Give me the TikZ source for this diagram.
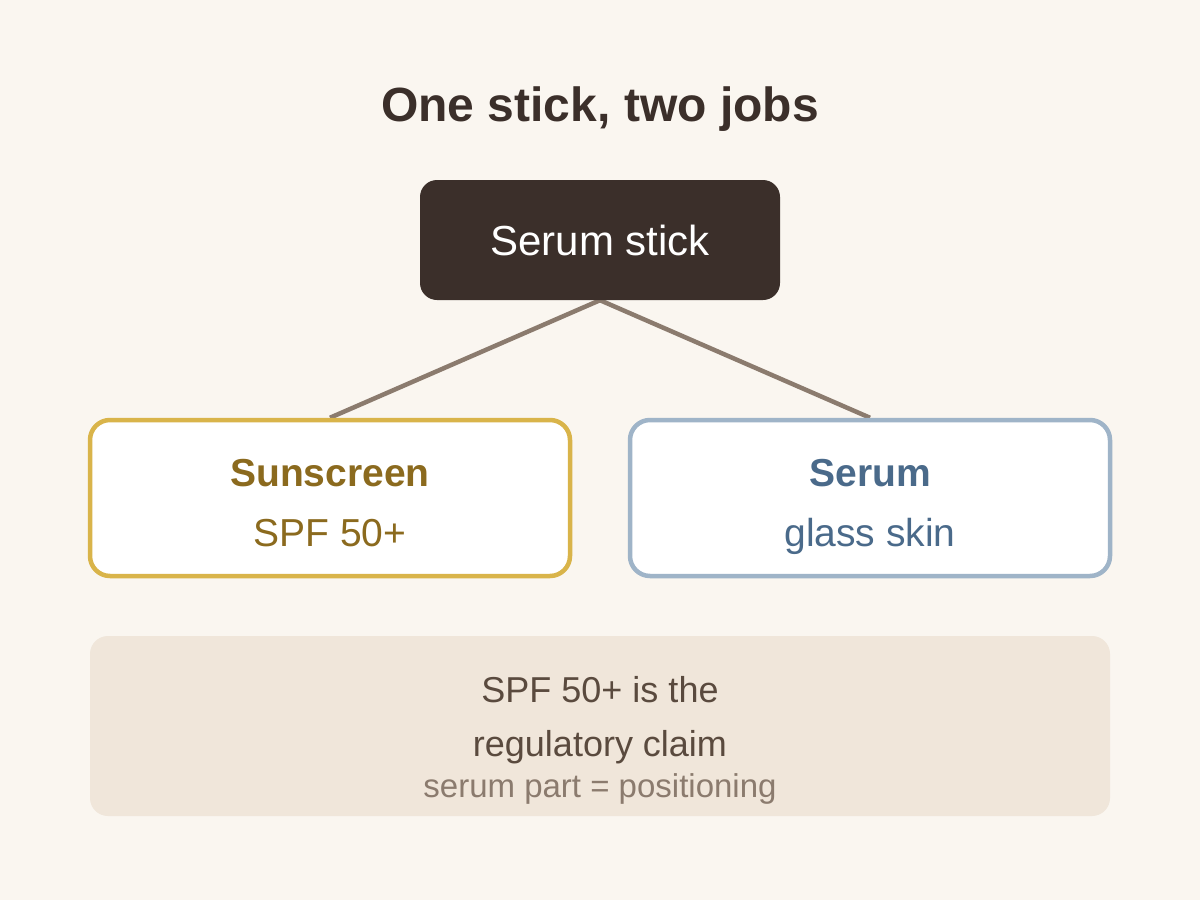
\documentclass[tikz,border=0pt]{standalone}
\usepackage{fontspec}
\setmainfont{Liberation Sans}
\usepackage{xcolor}
\usepackage{tikz}
\usetikzlibrary{positioning}
\pgfdeclarelayer{paper}
\pgfdeclarelayer{links}
\pgfsetlayers{paper,links,main}
\definecolor{mybg}{RGB}{250,246,240}
\definecolor{mydark}{RGB}{59,47,42}
\definecolor{mylink}{RGB}{139,123,110}
\definecolor{mygold}{RGB}{217,180,74}
\definecolor{txtgold}{RGB}{139,106,30}
\definecolor{myblue}{RGB}{159,180,200}
\definecolor{txtblue}{RGB}{74,106,138}
\definecolor{notefill}{RGB}{240,230,218}
\definecolor{txtnote}{RGB}{90,74,62}
\tikzset{
  topblock/.style={rectangle, fill=mydark, rounded corners=17pt,
    minimum width=360pt, minimum height=120pt, inner sep=0pt},
  sunblock/.style={rectangle, draw=mygold, fill=white, line width=4.5pt,
    rounded corners=20pt, minimum width=480pt, minimum height=156pt, inner sep=0pt},
  serblock/.style={rectangle, draw=myblue, fill=white, line width=4.5pt,
    rounded corners=20pt, minimum width=480pt, minimum height=156pt, inner sep=0pt},
  noteblock/.style={rectangle, fill=notefill, rounded corners=18pt,
    minimum width=1020pt, minimum height=180pt, inner sep=0pt},
  txt/.style={anchor=base, inner sep=0pt},
  link/.style={line width=4.5pt, color=mylink}
}

\begin{document}
\begin{tikzpicture}[x=1pt, y=-1pt]
  % background
  \begin{pgfonlayer}{paper}
    \fill[mybg] (0,0) rectangle (1200,900);
  \end{pgfonlayer}

  % title
  \node[txt, text=mydark, font=\fontsize{48}{58}\selectfont\bfseries] (title) at (600,121) {One stick, two jobs};

  % product
  \node[topblock] (stick) at (600,240) {};
  \node[txt, text=white, font=\fontsize{42}{50}\selectfont] (sticktxt) at (600,255) {Serum stick};

  % the two jobs
  \node[sunblock] (sun) at (330,498) {};
  \node[serblock] (serum) at (870,498) {};
  \begin{pgfonlayer}{links}
    \draw[link] (stick.south) -- (sun.north);
    \draw[link] (stick.south) -- (serum.north);
  \end{pgfonlayer}

  \node[txt, text=txtgold, font=\fontsize{39}{47}\selectfont\bfseries] (sunhead) at (330,486) {Sunscreen};
  \node[txt, text=txtgold, font=\fontsize{39}{47}\selectfont] (sunsub) at (330,546) {SPF 50+};
  \node[txt, text=txtblue, font=\fontsize{39}{47}\selectfont\bfseries] (serhead) at (870,486) {Serum};
  \node[txt, text=txtblue, font=\fontsize{39}{47}\selectfont] (sersub) at (870,546) {glass skin};

  % note
  \node[noteblock] (note) at (600,726) {};
  \node[txt, text=txtnote, font=\fontsize{36}{44}\selectfont] (note1) at (600,702) {SPF 50+ is the};
  \node[txt, text=txtnote, font=\fontsize{36}{44}\selectfont] (note2) at (600,756) {regulatory claim};
  \node[txt, text=mylink, font=\fontsize{33}{40}\selectfont] (note3) at (600,797) {serum part = positioning};
\end{tikzpicture}
\end{document}
